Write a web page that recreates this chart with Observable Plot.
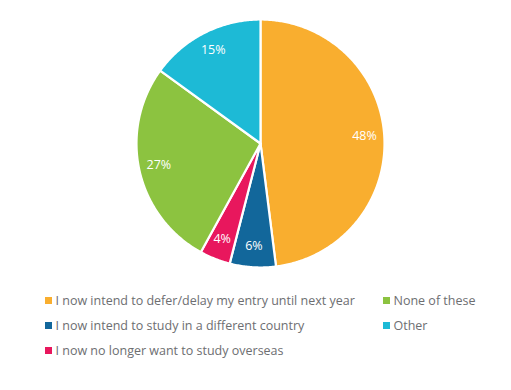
<!DOCTYPE html>
<html>
<head>
<meta charset="utf-8">
<script src="https://cdn.jsdelivr.net/npm/d3@7"></script>
<script src="https://cdn.jsdelivr.net/npm/@observablehq/plot@0.6"></script>
<style>
  html, body { margin: 0; padding: 0; background: #fff; }
  body { width: 511px; height: 390px; overflow: hidden; font-family: "Open Sans", sans-serif; }
  #chart svg { display: block; }
  #legend {
    display: grid;
    grid-template-rows: repeat(3, 25px);
    grid-template-columns: 338px auto;
    grid-auto-flow: column;
    margin: 6px 0 0 45px;
    font-size: 12.5px;
    color: #6d6e71;
  }
  .item { display: flex; align-items: center; white-space: nowrap; }
  .sw { width: 7px; height: 7px; margin-right: 3.5px; flex: none; }
</style>
</head>
<body>
<div id="chart"></div>
<div id="legend"></div>
<script>
const categories = [
  "I now intend to defer/delay my entry until next year",
  "I now intend to study in a different country",
  "I now no longer want to study overseas",
  "None of these",
  "Other"
];
const values = [48, 6, 4, 27, 15];
const colors = ["#F9AE2F", "#12679B", "#E8175D", "#8CC340", "#1DBAD6"];

const data = categories.map((c, i) => ({category: c, value: values[i]}));
const arcs = d3.pie().sort(null).value(d => d.value)(data);

// polygon points in unit coordinates (angle 0 at top, clockwise)
const pts = [];
for (const a of arcs) {
  const n = Math.max(2, Math.ceil((a.endAngle - a.startAngle) / 0.01));
  pts.push({category: a.data.category, x: 0, y: 0});
  for (let k = 0; k <= n; k++) {
    const t = a.startAngle + (a.endAngle - a.startAngle) * k / n;
    pts.push({category: a.data.category, x: Math.sin(t), y: Math.cos(t)});
  }
  pts.push({category: a.data.category, x: 0, y: 0});
}
const labels = arcs.map(a => {
  const m = (a.startAngle + a.endAngle) / 2;
  const r = 0.84;
  return {text: a.data.value + "%", x: r * Math.sin(m), y: r * Math.cos(m)};
});

const cx = 260, cy = 143, R = 124;
const plot = Plot.plot({
  width: 511,
  height: 282,
  margin: 0,
  style: {background: "#fff", fontFamily: "Open Sans, sans-serif"},
  x: {domain: [-1, 1], range: [cx - R, cx + R], axis: null},
  y: {domain: [-1, 1], range: [cy + R, cy - R], axis: null},
  color: {domain: categories, range: colors},
  marks: [
    Plot.line(pts, {x: "x", y: "y", z: "category", fill: "category", stroke: "white", strokeWidth: 2.2, strokeLinejoin: "round", curve: "linear"}),
    Plot.text(labels, {x: "x", y: "y", text: "text", fill: "white", fontSize: 12.5, dy: -1})
  ]
});
document.getElementById("chart").appendChild(plot);

const legend = document.getElementById("legend");
categories.forEach((c, i) => {
  const d = document.createElement("div");
  d.className = "item";
  d.innerHTML = `<span class="sw" style="background:${colors[i]}"></span><span></span>`;
  d.lastChild.textContent = c;
  legend.appendChild(d);
});
</script>
</body>
</html>
